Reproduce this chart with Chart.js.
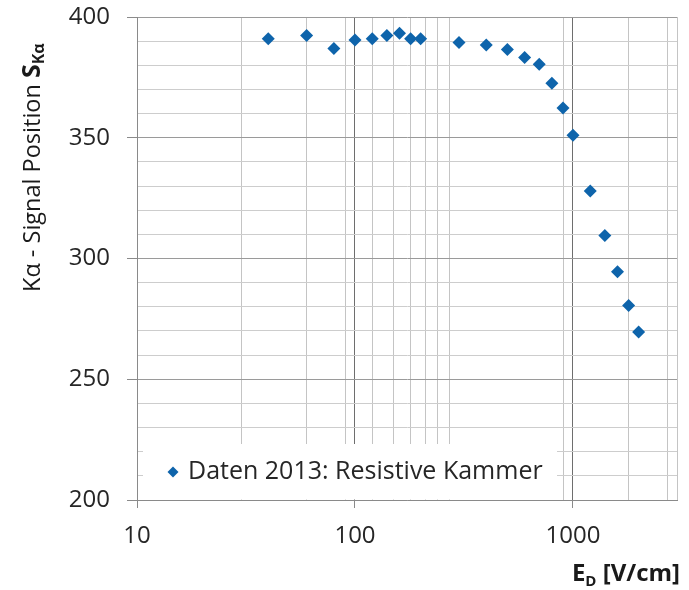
<!DOCTYPE html>
<html>
<head>
<meta charset="utf-8">
<script src="https://cdn.jsdelivr.net/npm/chart.js@4.4.1/dist/chart.umd.min.js"></script>
<style>
  html, body { margin: 0; padding: 0; background: #fff; }
  #wrap { width: 689px; height: 590px; }
</style>
</head>
<body>
<div id="wrap"><canvas id="chart" width="689" height="590"></canvas></div>
<script>
const fieldValues = [40, 60, 80, 100, 120, 140, 160, 180, 200, 300, 400, 500, 600, 700, 800, 900, 1000, 1200, 1400, 1600, 1800, 2000];
const signalPositions = [391, 392.3, 387, 390.5, 391, 392.3, 393.3, 391, 391, 389.4, 388.4, 386.5, 383.2, 380.4, 372.6, 362.3, 351, 328, 309.5, 294.5, 280.5, 269.6];
const xGridValues = [10, 30, 60, 90, 100, 120, 150, 180, 210, 240, 270, 900, 1000, 1800, 2700, 3000];
const xLabelValues = [10, 100, 1000];
const xMajorValues = [100, 1000];
const seriesLabel = 'Daten 2013: Resistive Kammer';

const BLUE = '#0e64ab';
const TEXT = '#262626';
const FONT = '"Open Sans", "DejaVu Sans", sans-serif';

// Legende mit weissem Hintergrund unten links
const legendBox = {
  id: 'legendBox',
  beforeDatasetsDraw(chart) {
    const c = chart.ctx;
    const a = chart.chartArea;
    c.save();
    c.fillStyle = '#ffffff';
    c.fillRect(a.left + 6, a.bottom - 56, 414, 55.5);
    // Raute
    const cx = a.left + 36, cy = a.bottom - 28;
    c.fillStyle = BLUE;
    c.beginPath();
    c.moveTo(cx, cy - 5.5);
    c.lineTo(cx + 5.5, cy);
    c.lineTo(cx, cy + 5.5);
    c.lineTo(cx - 5.5, cy);
    c.closePath();
    c.fill();
    c.fillStyle = TEXT;
    c.font = '25px ' + FONT;
    c.textBaseline = 'alphabetic';
    c.fillText(seriesLabel, a.left + 51, a.bottom - 21);
    c.restore();
  }
};

// Achsentitel mit Index (S_Ka, E_D)
const axisTitles = {
  id: 'axisTitles',
  afterDraw(chart) {
    const c = chart.ctx;
    const a = chart.chartArea;
    c.save();
    c.fillStyle = '#1a1a1a';
    c.textBaseline = 'alphabetic';

    // y-Titel, gedreht
    const yParts = [
      { t: 'K\u03b1 - Signal Position ', f: '23.5px ' + FONT, dy: 0 },
      { t: 'S', f: 'bold 25px ' + FONT, dy: 0 },
      { t: 'K\u03b1', f: 'bold 16px ' + FONT, dy: 4 }
    ];
    c.translate(40, a.top + 275);
    c.rotate(-Math.PI / 2);
    let x = 0;
    yParts.forEach(p => {
      c.font = p.f;
      c.fillText(p.t, x, p.dy);
      x += c.measureText(p.t).width;
    });
    c.setTransform(1, 0, 0, 1, 0, 0);

    // x-Titel, rechtsbuendig
    const xParts = [
      { t: 'E', f: 'bold 24px ' + FONT, dy: 0 },
      { t: 'D', f: 'bold 15px ' + FONT, dy: 5 },
      { t: ' [V/cm]', f: 'bold 24px ' + FONT, dy: 0 }
    ];
    let total = 0;
    xParts.forEach(p => { c.font = p.f; total += c.measureText(p.t).width; });
    x = 680 - total;
    xParts.forEach(p => {
      c.font = p.f;
      c.fillText(p.t, x, 581 + p.dy);
      x += c.measureText(p.t).width;
    });
    c.restore();
  }
};

new Chart(document.getElementById('chart'), {
  type: 'scatter',
  data: {
    datasets: [{
      label: seriesLabel,
      data: fieldValues.map((v, i) => ({ x: v, y: signalPositions[i] })),
      pointStyle: 'rectRot',
      pointRadius: 6.5,
      backgroundColor: BLUE,
      borderColor: BLUE,
      borderWidth: 0
    }]
  },
  options: {
    responsive: false,
    animation: false,
    layout: { padding: { top: 17, right: 12, left: 0, bottom: 0 } },
    plugins: { legend: { display: false }, tooltip: { enabled: false } },
    scales: {
      x: {
        type: 'logarithmic',
        min: 10,
        max: 3000,
        afterBuildTicks: s => { s.ticks = xGridValues.map(v => ({ value: v })); },
        afterFit: s => { s.height = 90; s.paddingLeft = 0; s.paddingRight = 0; },
        border: { color: '#8a8a8a' },
        grid: {
          color: c => xMajorValues.includes(c.tick.value) ? '#6e6e6e' : '#c4c4c4',
          tickColor: c => xLabelValues.includes(c.tick.value) ? '#8a8a8a' : 'rgba(0,0,0,0)',
          tickLength: 8
        },
        ticks: {
          autoSkip: false,
          maxRotation: 0,
          padding: 14,
          color: TEXT,
          font: { family: FONT, size: 24 },
          callback: v => xLabelValues.includes(v) ? String(v) : ''
        }
      },
      y: {
        min: 200,
        max: 400,
        afterFit: s => { s.width = 137; s.paddingTop = 0; s.paddingBottom = 0; },
        border: { color: '#8a8a8a' },
        grid: {
          color: c => c.tick.value % 50 === 0 ? '#9a9a9a' : '#cdcdcd',
          tickColor: c => c.tick.value % 50 === 0 ? '#8a8a8a' : 'rgba(0,0,0,0)',
          tickLength: 10
        },
        ticks: {
          stepSize: 10,
          autoSkip: false,
          padding: 17,
          color: TEXT,
          font: { family: FONT, size: 24 },
          callback: v => v % 50 === 0 ? String(v) : ''
        }
      }
    }
  },
  plugins: [legendBox, axisTitles]
});
</script>
</body>
</html>
